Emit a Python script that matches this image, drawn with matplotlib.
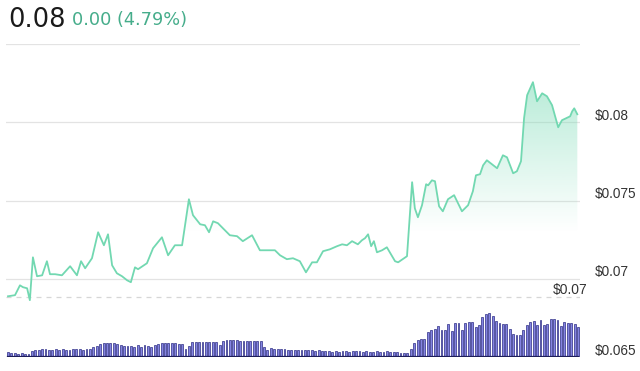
import numpy as np
import matplotlib.pyplot as plt
from matplotlib.colors import to_rgb

# price line (hour index, price in $)
hours = [0, 2.05, 3.5, 4.4, 5.6, 6.4, 7.3, 8.5, 10.0, 11.4, 12.3, 13.8, 15.8, 18.2,
         20.2, 21.4, 22.6, 24.6, 26.4, 28.1, 29.3, 30.5, 31.9, 33.4, 34.9, 36.0,
         37.2, 38.1, 40.7, 42.5, 45.1, 46.9, 48.9, 51.0, 53.0, 54.2, 56.3, 57.7,
         58.9, 60.1, 61.5, 65.0, 67.1, 68.8, 71.5, 73.8, 75.9, 78.2, 79.7, 81.7,
         83.5, 85.5, 87.3, 89.1, 90.5, 92.3, 94.3, 96.4, 97.9, 99.3, 100.8, 102.5,
         103.7, 104.6, 105.5, 106.4, 107.2, 108.1, 109.6, 111.0, 113.4, 114.3,
         116.9, 118.4, 119.2, 120.1, 121.3, 122.5, 123.1, 124.2, 125.1, 126.3,
         127.4, 128.9, 130.7, 133.0, 134.8, 136.2, 137.1, 138.3, 139.2, 140.3,
         143.3, 145.0, 146.2, 148.0, 149.1, 150.3, 151.2, 152.1, 153.8, 155.0,
         156.5, 157.9, 159.4, 160.3, 161.2, 162.3, 164.7, 165.3, 165.9, 166.8]
price = [0.06888, 0.06895, 0.06958, 0.06946, 0.06939, 0.06863, 0.07137, 0.07016,
         0.07022, 0.07112, 0.07029, 0.07029, 0.07022, 0.07080, 0.07022, 0.07112,
         0.07067, 0.07131, 0.07297, 0.07214, 0.07284, 0.07086, 0.07035, 0.07016,
         0.06990, 0.06978, 0.07073, 0.07061, 0.07099, 0.07195, 0.07265, 0.07150,
         0.07214, 0.07214, 0.07508, 0.07406, 0.07348, 0.07342, 0.07297, 0.07367,
         0.07355, 0.07278, 0.07272, 0.07240, 0.07278, 0.07182, 0.07182, 0.07182,
         0.07150, 0.07125, 0.07131, 0.07112, 0.07041, 0.07105, 0.07105, 0.07176,
         0.07188, 0.07208, 0.07220, 0.07214, 0.07240, 0.07220, 0.07246, 0.07259,
         0.07284, 0.07208, 0.07240, 0.07169, 0.07182, 0.07201, 0.07112, 0.07105,
         0.07144, 0.07617, 0.07450, 0.07393, 0.07470, 0.07604, 0.07597, 0.07629,
         0.07623, 0.07463, 0.07431, 0.07508, 0.07534, 0.07431, 0.07470, 0.07559,
         0.07661, 0.07668, 0.07725, 0.07757, 0.07706, 0.07789, 0.07776, 0.07674,
         0.07687, 0.07751, 0.08026, 0.08173, 0.08256, 0.08134, 0.08185, 0.08166,
         0.08109, 0.08038, 0.07968, 0.08013, 0.08038, 0.08070, 0.08089, 0.08051]

# hourly volume (relative units)
volume = [5, 4, 4, 3, 4, 3, 3,
          6, 7, 7, 8, 8, 7, 7, 8, 7, 8, 7, 7, 8, 8, 8, 7, 8, 8,
          10, 11, 13, 14, 14, 14, 14, 13, 12,
          11, 11, 11, 10, 12, 10, 12, 11, 10,
          12, 13, 14, 14, 14, 14, 14, 13, 13,
          8, 11,
          15, 15, 15, 15, 15, 15, 15, 15, 12, 16, 17, 17, 17, 17, 16, 16, 16, 16,
          16, 16, 16,
          10, 7, 9, 8, 8, 8, 8, 7, 7, 7, 7, 7, 7, 7, 7, 6, 7, 6, 6, 6, 5, 6, 5, 6,
          6, 5, 6, 6, 6, 5, 6, 5, 5, 6, 5, 5, 6, 5, 5, 5,
          4, 4, 4, 8, 14, 17, 18, 18, 25, 27, 28, 31, 27, 27, 33, 26, 34, 34, 27,
          34, 35, 35, 30, 32, 40, 43, 44, 41, 36, 34, 33, 33, 28, 23, 22, 22, 27,
          32, 35, 36, 32, 37, 32, 33, 38, 38, 37, 31, 35, 34, 34, 33, 30]

grid_levels = [0.065, 0.07, 0.075, 0.08, 0.085]
tick_labels = ["$0.065", "$0.07", "$0.075", "$0.08", ""]
open_price = 0.06882
open_label = "$0.07"
last_price = "0.08"
change_text = "0.00 (4.79%)"

LINE_GREEN = "#72d8b1"
TEXT_GREEN = "#46ad8b"
BAR_FACE = "#8484e2"
BAR_EDGE = "#2c2c84"

fig = plt.figure(figsize=(6.4, 3.71), dpi=100)
ax = fig.add_axes([6.3 / 640, 14 / 371, 573.4 / 640, 313 / 371])
ax.set_xlim(-0.5, 167.5)
ax.set_ylim(0.065, 0.085)
for s in ax.spines.values():
    s.set_visible(False)
ax.set_xticks([])
ax.set_yticks([])

for lv in grid_levels[1:]:
    ax.axhline(lv, color="#e3e3e3", lw=0.9, zorder=0)

# gradient fill under the line
poly = ax.fill_between(hours, price, 0.065, color="none", lw=0)
rgb = to_rgb("#7fdcb8")
yy = np.linspace(0.065, 0.085, 300)
alpha = np.clip((yy - 0.0730) / (0.0835 - 0.0730), 0, 1) * 0.6
img = np.zeros((300, 1, 4))
img[:, 0, :3] = rgb
img[:, 0, 3] = alpha
im = ax.imshow(img, extent=[0, 167, 0.065, 0.085], origin="lower",
               aspect="auto", zorder=1)
im.set_clip_path(poly.get_paths()[0], transform=ax.transData)

ax.plot(hours, price, color=LINE_GREEN, lw=1.3, zorder=3)

# open price reference
ax.axhline(open_price, color="#d6d6d6", lw=0.9, ls=(0, (4, 4)), zorder=2)
ax.annotate(open_label, xy=(1.0, open_price), xycoords=("axes fraction", "data"),
            xytext=(6, 0.5), textcoords="offset points", ha="right", va="bottom",
            fontsize=10, color="#333333", family="Liberation Sans")

# right side price labels
for lv, lab in zip(grid_levels, tick_labels):
    ax.annotate(lab, xy=(1.0, lv), xycoords=("axes fraction", "data"),
                xytext=(11, 4.5), textcoords="offset points", ha="left",
                va="center", fontsize=9.8, color="#333333",
                family="Liberation Sans")

# volume bars
vax = ax.twinx()
vax.set_ylim(0, 313)
vax.set_xlim(-0.5, 167.5)
vax.bar(range(len(volume)), volume, width=0.55, color=BAR_FACE,
        edgecolor=BAR_EDGE, lw=0.5, zorder=2)
vax.axhline(0.3, xmin=0.003, xmax=0.997, color="#1e1e5a", lw=1.6, zorder=3)
for s in vax.spines.values():
    s.set_visible(False)
vax.set_yticks([])
vax.set_xticks([])

fig.text(8 / 640, 1 - 20 / 371, last_price, fontsize=18.5, color="#1a1a1a",
         va="center", ha="left")
fig.text(72 / 640, 1 - 20 / 371, change_text, fontsize=12.8, color=TEXT_GREEN,
         va="center", ha="left")

fig.savefig("out.png", dpi=100)
